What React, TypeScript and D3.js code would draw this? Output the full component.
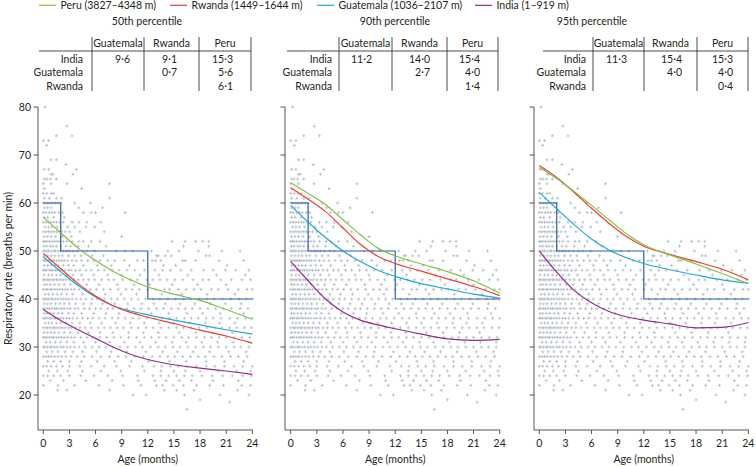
import React from 'react';
import * as d3 from 'd3';

// ---------- data ----------
const legendLabels = ['Peru (3827–4348 m)', 'Rwanda (1449–1644 m)', 'Guatemala (1036–2107 m)', 'India (1–919 m)'];
const countryColors = ['#84c041', '#ec3f36', '#1fa9d6', '#8f2b8c'];
const percentileTitles = ['50th percentile', '90th percentile', '95th percentile'];

const curveAges = [0, 2, 4, 6, 8, 10, 12, 15, 18, 21, 24];
// order: Peru, Rwanda, Guatemala, India
const p50Curves = [
  [57.0, 53.8, 50.6, 48.0, 45.8, 44.0, 42.5, 41.0, 39.7, 37.8, 35.8],
  [49.5, 46.3, 43.2, 40.6, 38.6, 37.2, 36.2, 34.9, 33.5, 32.3, 30.8],
  [48.8, 45.7, 42.8, 40.4, 38.6, 37.5, 36.7, 35.6, 34.6, 33.6, 32.7],
  [37.8, 35.5, 33.6, 31.8, 30.0, 28.5, 27.4, 26.3, 25.6, 25.0, 24.3],
];
const p90Curves = [
  [64.2, 62.0, 59.7, 56.5, 53.4, 50.6, 49.0, 47.3, 45.7, 43.8, 41.2],
  [63.2, 60.8, 58.2, 54.8, 51.4, 48.9, 47.4, 45.8, 44.2, 42.6, 40.7],
  [59.5, 56.0, 52.8, 50.0, 47.8, 46.0, 44.7, 43.2, 42.1, 41.0, 40.2],
  [47.8, 43.8, 40.0, 37.3, 35.6, 34.6, 33.8, 32.7, 31.7, 31.4, 31.6],
];
const p95Curves = [
  [67.4, 65.1, 62.4, 59.5, 56.5, 53.6, 51.3, 49.2, 47.3, 45.3, 43.2],
  [67.8, 65.3, 62.2, 58.9, 55.8, 53.0, 51.0, 49.3, 47.8, 46.2, 44.0],
  [62.2, 58.8, 55.5, 52.5, 50.2, 48.6, 47.4, 46.1, 45.0, 44.0, 43.3],
  [50.0, 45.6, 41.8, 39.2, 37.4, 36.3, 35.6, 34.8, 34.0, 34.1, 35.1],
];

const tableRowLabels = ['India', 'Guatemala', 'Rwanda'];
const tableColLabels = ['Guatemala', 'Rwanda', 'Peru'];
const p50Table = [['9·6', '9·1', '15·3'], ['', '0·7', '5·6'], ['', '', '6·1']];
const p90Table = [['11·2', '14·0', '15·4'], ['', '2·7', '4·0'], ['', '', '1·4']];
const p95Table = [['11·3', '15·4', '15·3'], ['', '4·0', '4·0'], ['', '', '0·4']];

// WHO fast-breathing thresholds
const stepAges = [0, 2, 2, 12, 12, 24];
const stepRates = [60, 60, 50, 50, 40, 40];

const xTicks = [0, 3, 6, 9, 12, 15, 18, 21, 24];
const yTicks = [20, 30, 40, 50, 60, 70, 80];

// observed respiratory rates: [rate, ages (months)]
const scatterRows: [number, number[]][] = [
  [80, [0.2]],
  [76, [2.7]],
  [74, [1.5, 3.3]],
  [73, [0, 0.6]],
  [72, [0.4]],
  [69, [0.9, 1.5]],
  [68, [2.6]],
  [67, [0.1, 0.6, 3.8]],
  [66, [0.9, 1.1, 3.4]],
  [65, [0.1, 0.4, 0.8, 1.5]],
  [64, [0, 0.9, 2.7, 7.6]],
  [63, [0.1, 4.4]],
  [62, [0, 0.4, 0.9, 1.2]],
  [61, [0.1, 0.7, 1.5, 2.1, 7.6]],
  [60, [0, 0.2, 0.5, 0.8, 1.1, 1.4, 1.7, 2.0, 3.6, 5.4]],
  [59, [0.1, 0.5, 0.9, 4.1, 6.8]],
  [58, [0, 0.3, 0.7, 1.0, 1.3, 1.8, 2.2, 4.6, 5.5, 6.0, 9.4]],
  [57, [0.1, 0.5, 1.2, 2.4]],
  [56, [0, 0.3, 0.6, 0.9, 1.2, 1.5, 1.9, 2.3, 3.3, 4.1, 5.0, 6.6]],
  [55, [0.2, 0.6, 1.0, 1.6, 2.8, 3.6, 4.9, 5.9]],
  [54, [0, 0.3, 0.6, 0.9, 1.2, 1.5, 1.8, 2.1, 2.5, 3.0, 4.2, 7.0]],
  [53, [0.1, 0.5, 0.9, 1.4, 2.2, 3.2, 9.0]],
  [52, [0, 0.2, 0.4, 0.7, 1.0, 1.3, 1.6, 1.9, 2.3, 2.7, 3.3, 4.1, 4.6, 5.5, 6.5, 14.8, 16.3, 17.5, 18.3, 19.0]],
  [51, [0.1, 0.4, 0.8, 1.1, 1.5, 2.0, 2.6, 3.1, 4.0, 5.2, 7.2, 16.1, 19.0]],
  [50, [0, 0.2, 0.4, 0.6, 0.9, 1.2, 1.4, 1.7, 2.0, 2.3, 2.7, 3.0, 3.4, 3.9, 4.5, 5.0, 5.9, 8.4, 9.4, 10.3, 12.4, 14.3, 15.6, 17.8, 20.5, 22.6]],
  [49, [0.1, 0.5, 0.9, 1.3, 1.8, 2.2, 2.9, 3.6, 4.3, 5.6, 6.9, 13.0, 13.2, 14.0, 14.7, 18.7, 19.1]],
  [48, [0, 0.2, 0.4, 0.6, 0.8, 1.0, 1.2, 1.5, 1.8, 2.1, 2.4, 2.8, 3.3, 3.8, 4.4, 5.1, 5.8, 6.5, 7.4, 8.2, 9.3, 10.8, 11.5, 12.5, 12.9, 13.5, 16.0, 16.3, 17.5, 20.2, 23.0]],
  [47, [0.1, 0.5, 0.9, 1.3, 1.7, 2.3, 2.9, 3.5, 4.6, 6.2, 7.8, 9.9, 13.8, 15.2, 21.1]],
  [46, [0, 0.2, 0.4, 0.7, 0.9, 1.1, 1.4, 1.6, 1.9, 2.2, 2.5, 2.9, 3.2, 3.7, 4.2, 4.9, 5.5, 6.3, 7.0, 7.9, 8.7, 9.6, 10.5, 11.6, 12.8, 13.7, 14.6, 15.8, 17.0, 18.4, 19.5, 20.9, 22.1, 23.6]],
  [45, [0.1, 0.6, 1.0, 1.5, 2.0, 2.7, 3.4, 4.4, 5.8, 7.4, 9.0, 11.1, 13.3, 16.6, 19.9, 23.2]],
  [44, [0, 0.2, 0.5, 0.7, 1.0, 1.2, 1.5, 1.7, 2.0, 2.3, 2.6, 3.0, 3.5, 4.0, 4.6, 5.2, 5.9, 6.7, 7.5, 8.1, 9.1, 10.0, 10.8, 11.9, 12.6, 13.4, 14.2, 15.1, 16.0, 17.2, 18.3, 19.0, 20.4, 21.6, 22.8, 23.8]],
  [43, [0.1, 0.4, 0.8, 1.3, 1.8, 2.4, 3.1, 3.9, 5.0, 6.4, 8.5, 10.4, 12.2, 14.8, 17.7, 21.0]],
  [42, [0, 0.3, 0.5, 0.8, 1.0, 1.3, 1.6, 1.9, 2.2, 2.5, 2.8, 3.2, 3.6, 4.1, 4.8, 5.4, 6.1, 6.9, 7.7, 8.6, 9.5, 10.2, 11.0, 12.0, 12.9, 13.9, 14.5, 15.5, 16.4, 17.3, 18.1, 19.3, 20.1, 21.2, 22.4, 23.4, 24.0]],
  [41, [0.2, 0.6, 1.1, 1.6, 2.1, 2.7, 3.4, 4.5, 5.7, 7.1, 8.9, 10.7, 13.6, 15.9, 18.8, 22.0]],
  [40, [0, 0.2, 0.4, 0.6, 0.9, 1.1, 1.4, 1.7, 2.0, 2.3, 2.6, 2.9, 3.3, 3.8, 4.3, 4.9, 5.6, 6.2, 7.0, 7.8, 8.5, 9.3, 10.1, 10.9, 11.7, 12.6, 13.4, 14.3, 15.2, 16.1, 16.9, 17.9, 18.8, 19.6, 20.6, 21.5, 22.5, 23.3, 24.0]],
  [39, [0.1, 0.5, 0.9, 1.4, 1.9, 2.4, 3.0, 3.7, 4.6, 5.5, 6.8, 8.2, 9.7, 11.3, 12.7, 14.0, 15.7, 17.4, 19.2, 20.9, 22.7]],
  [38, [0, 0.2, 0.5, 0.7, 1.0, 1.3, 1.5, 1.8, 2.1, 2.4, 2.8, 3.1, 3.6, 4.0, 4.7, 5.3, 6.0, 6.6, 7.4, 8.0, 8.8, 9.6, 10.4, 11.2, 12.1, 13.0, 13.8, 14.7, 15.5, 16.3, 17.1, 18.0, 18.9, 19.8, 20.7, 21.6, 22.6, 23.5]],
  [37, [0.1, 0.4, 0.8, 1.2, 1.7, 2.2, 2.9, 3.5, 4.4, 5.8, 7.2, 8.7, 10.6, 12.4, 14.4, 16.5, 18.3, 20.3, 23.0]],
  [36, [0, 0.2, 0.4, 0.7, 0.9, 1.2, 1.4, 1.7, 2.0, 2.3, 2.7, 3.0, 3.4, 3.9, 4.5, 5.1, 5.7, 6.4, 7.1, 7.9, 8.6, 9.4, 10.3, 11.0, 11.9, 12.8, 13.6, 14.5, 15.3, 16.2, 17.0, 17.8, 18.7, 19.5, 20.4, 21.4, 22.3, 23.2, 24.0]],
  [35, [0.2, 0.6, 1.0, 1.5, 2.0, 2.6, 3.3, 4.2, 5.4, 6.7, 8.3, 10.0, 11.6, 13.3, 15.0, 16.8, 18.6, 20.2, 22.0]],
  [34, [0, 0.3, 0.5, 0.8, 1.1, 1.3, 1.6, 1.9, 2.2, 2.5, 2.9, 3.2, 3.7, 4.2, 4.8, 5.5, 6.3, 7.0, 7.7, 8.5, 9.2, 10.1, 10.9, 11.8, 12.6, 13.5, 14.4, 15.3, 16.1, 17.0, 17.9, 18.8, 19.7, 20.5, 21.4, 22.2, 23.1, 23.9]],
  [33, [0.1, 0.5, 0.9, 1.3, 1.8, 2.4, 3.1, 4.0, 5.2, 6.5, 8.0, 9.8, 11.5, 13.2, 15.6, 17.5, 19.4, 21.7]],
  [32, [0, 0.2, 0.4, 0.7, 1.0, 1.2, 1.5, 1.8, 2.1, 2.4, 2.8, 3.2, 3.6, 4.3, 5.0, 5.7, 6.5, 7.3, 8.1, 8.9, 9.8, 10.7, 11.6, 12.4, 13.3, 14.1, 15.0, 15.9, 16.7, 17.6, 18.5, 19.3, 20.2, 21.0, 21.9, 22.8, 23.7]],
  [31, [0.3, 0.8, 1.4, 2.0, 2.7, 3.5, 4.6, 6.0, 7.6, 9.3, 11.1, 12.9, 14.8, 16.4, 18.2, 20.0, 21.8, 23.6]],
  [30, [0, 0.2, 0.5, 0.8, 1.0, 1.3, 1.6, 2.0, 2.3, 2.7, 3.1, 3.6, 4.1, 4.8, 5.6, 6.4, 7.2, 8.0, 8.8, 9.7, 10.6, 11.4, 12.3, 13.2, 14.0, 14.9, 15.7, 16.6, 17.5, 18.4, 19.2, 20.1, 21.0, 21.9, 22.7, 23.6]],
  [29, [0.4, 1.0, 1.7, 2.5, 3.4, 4.5, 6.1, 7.8, 9.6, 11.8, 13.7, 15.4, 17.2, 19.1, 21.3, 23.3]],
  [28, [0, 0.3, 0.6, 0.9, 1.3, 1.7, 2.1, 2.6, 3.2, 3.9, 4.7, 5.6, 6.6, 7.6, 8.6, 9.5, 10.5, 11.5, 12.5, 13.4, 14.3, 15.1, 16.0, 16.9, 17.8, 18.6, 19.6, 20.5, 21.5, 22.4, 23.4]],
  [27, [0.5, 1.2, 2.0, 3.0, 4.4, 6.2, 8.2, 10.1, 12.1, 14.5, 16.4, 18.7, 20.8, 23.0]],
  [26, [0, 0.4, 0.9, 1.5, 2.2, 3.0, 4.2, 5.5, 7.0, 8.4, 9.9, 11.4, 12.7, 13.6, 14.6, 15.5, 16.5, 17.6, 18.7, 19.7, 20.8, 21.9, 22.9, 24.0]],
  [25, [0.6, 1.6, 2.8, 4.5, 6.6, 8.9, 11.6, 13.5, 15.0, 16.3, 18.0, 20.1, 22.2, 23.8]],
  [24, [0, 0.5, 1.2, 2.0, 3.0, 4.3, 5.8, 7.4, 9.1, 10.8, 12.6, 13.5, 14.4, 15.3, 16.2, 17.1, 18.2, 19.4, 20.6, 21.7, 22.9, 23.9]],
  [23, [0.8, 2.3, 4.9, 7.9, 10.9, 12.8, 14.1, 15.6, 17.0, 19.5, 22.4]],
  [22, [0, 1.7, 3.6, 6.4, 9.2, 11.2, 13.0, 13.7, 14.9, 16.1, 17.6, 19.1, 20.7, 22.8, 23.8]],
  [21, [1.65, 2.7, 7.6, 13.9, 15.3, 17.3, 22.3]],
  [20, [10.3, 11.8, 16.2, 20.3, 23.6]],
  [19, [18.0]],
  [18.5, [21.4]],
  [17, [16.5]],
];

// ---------- layout ----------
const W = 756;
const H = 466;
const FONT = 'Lato, "Open Sans", sans-serif';
const TEXT = '#231f20';
const panelAxisX = [38, 285, 534];
const panelX0 = [43.3, 290.7, 539.3];
const panelW = 209;
const yTop = 107;
const yBottom = 430;
const tableLines = [[92, 144, 199, 251], [339, 392, 447, 498], [593, 644, 697, 748]];
const tableHStart = [39, 287, 543];
const rowLabelRight = [83, 332, 586];
const colValueRight = [[130, 177, 233], [372, 430, 480], [627, 682, 733]];
const titleCenter = [147, 395, 592];
const legendX = [39, 170, 317, 475];

const allCurves = [p50Curves, p90Curves, p95Curves];
const allTables = [p50Table, p90Table, p95Table];

const yScale = d3.scaleLinear().domain([20, 80]).range([395, 107]);

function Panel({ idx }: { idx: number }) {
  const ax = panelAxisX[idx];
  const x = d3.scaleLinear().domain([0, 24]).range([panelX0[idx], panelX0[idx] + panelW]);
  const line = d3
    .line<number>()
    .x((_, i) => x(curveAges[i]))
    .y((d) => yScale(d))
    .curve(d3.curveMonotoneX);
  const stepLine = d3
    .line<number>()
    .x((_, i) => x(stepAges[i]))
    .y((d) => yScale(d));
  const pts: string[] = [];
  scatterRows.forEach(([r, ages]) => {
    ages.forEach((a) => {
      pts.push(`M${x(a)},${yScale(r)}m-1.5,0h3m-1.5,-1.5v3`);
    });
  });
  const curves = allCurves[idx];
  const table = allTables[idx];
  const tl = tableLines[idx];
  return (
    <g>
      <text x={titleCenter[idx]} y={25} textAnchor="middle" fontSize={10.5} fill={TEXT} fontFamily={FONT}>
        {percentileTitles[idx]}
      </text>
      {tl.map((lx, i) => (
        <line key={'v' + i} x1={lx} x2={lx} y1={37} y2={91} stroke={TEXT} strokeWidth={0.8} />
      ))}
      <line x1={tableHStart[idx]} x2={tl[3]} y1={51} y2={51} stroke={TEXT} strokeWidth={0.8} />
      {tableColLabels.map((c, i) => (
        <text key={'h' + i} x={(tl[i] + tl[i + 1]) / 2} y={46.5} textAnchor="middle" fontSize={10.5} fill={TEXT} fontFamily={FONT}>
          {c}
        </text>
      ))}
      {tableRowLabels.map((r, i) => (
        <text key={'r' + i} x={rowLabelRight[idx]} y={62.5 + i * 13.8} textAnchor="end" fontSize={10.5} fill={TEXT} fontFamily={FONT}>
          {r}
        </text>
      ))}
      {table.map((row, i) =>
        row.map((v, j) =>
          v ? (
            <text key={`c${i}-${j}`} x={colValueRight[idx][j]} y={62.5 + i * 13.8} textAnchor="end" fontSize={10.5} fill={TEXT} fontFamily={FONT}>
              {v}
            </text>
          ) : null
        )
      )}
      <path d={pts.join('')} stroke="#aeb7c2" strokeWidth={0.8} fill="none" />
      <path d={stepLine(stepRates) || ''} stroke="#2b5ea7" strokeWidth={1.2} fill="none" />
      {[3, 2, 1, 0].map((ci) => (
        <path key={'cv' + ci} d={line(curves[ci]) || ''} stroke={countryColors[ci]} strokeWidth={1.2} fill="none" />
      ))}
      <line x1={ax} x2={ax} y1={yTop} y2={yBottom} stroke="#555" strokeWidth={1} />
      <line x1={ax} x2={x(24) + 0.5} y1={yBottom} y2={yBottom} stroke="#555" strokeWidth={1} />
      {yTicks.map((t) => (
        <g key={'yt' + t}>
          <line x1={ax - 4.5} x2={ax} y1={yScale(t)} y2={yScale(t)} stroke="#555" strokeWidth={1} />
          {idx === 0 ? (
            <text x={ax - 7} y={yScale(t) + 3.6} textAnchor="end" fontSize={10.5} fill={TEXT} fontFamily={FONT}>
              {t}
            </text>
          ) : null}
        </g>
      ))}
      {xTicks.map((t) => (
        <g key={'xt' + t}>
          <line x1={x(t)} x2={x(t)} y1={yBottom} y2={yBottom + 4} stroke="#555" strokeWidth={1} />
          <text x={x(t)} y={447} textAnchor="middle" fontSize={10.5} fill={TEXT} fontFamily={FONT}>
            {t}
          </text>
        </g>
      ))}
      <text x={(x(0) + x(24)) / 2} y={463} textAnchor="middle" fontSize={10.5} fill={TEXT} fontFamily={FONT}>
        Age (months)
      </text>
    </g>
  );
}

export default function App() {
  return (
    <svg width={W} height={H} style={{ position: 'absolute', left: 0, top: 0, background: '#fff' }}>
      <rect width={W} height={H} fill="#fff" />
      {legendLabels.map((l, i) => (
        <g key={'lg' + i}>
          <line x1={legendX[i]} x2={legendX[i] + 17} y1={5.3} y2={5.3} stroke={countryColors[i]} strokeWidth={1.2} />
          <text x={legendX[i] + 21.5} y={9} fontSize={10.5} fill={TEXT} fontFamily={FONT}>
            {l}
          </text>
        </g>
      ))}
      <text
        transform={`translate(11.5, ${(yTop + yBottom) / 2}) rotate(-90)`}
        textAnchor="middle"
        fontSize={10.5}
        fill={TEXT}
        fontFamily={FONT}
      >
        Respiratory rate (breaths per min)
      </text>
      {[0, 1, 2].map((i) => (
        <Panel key={i} idx={i} />
      ))}
    </svg>
  );
}
